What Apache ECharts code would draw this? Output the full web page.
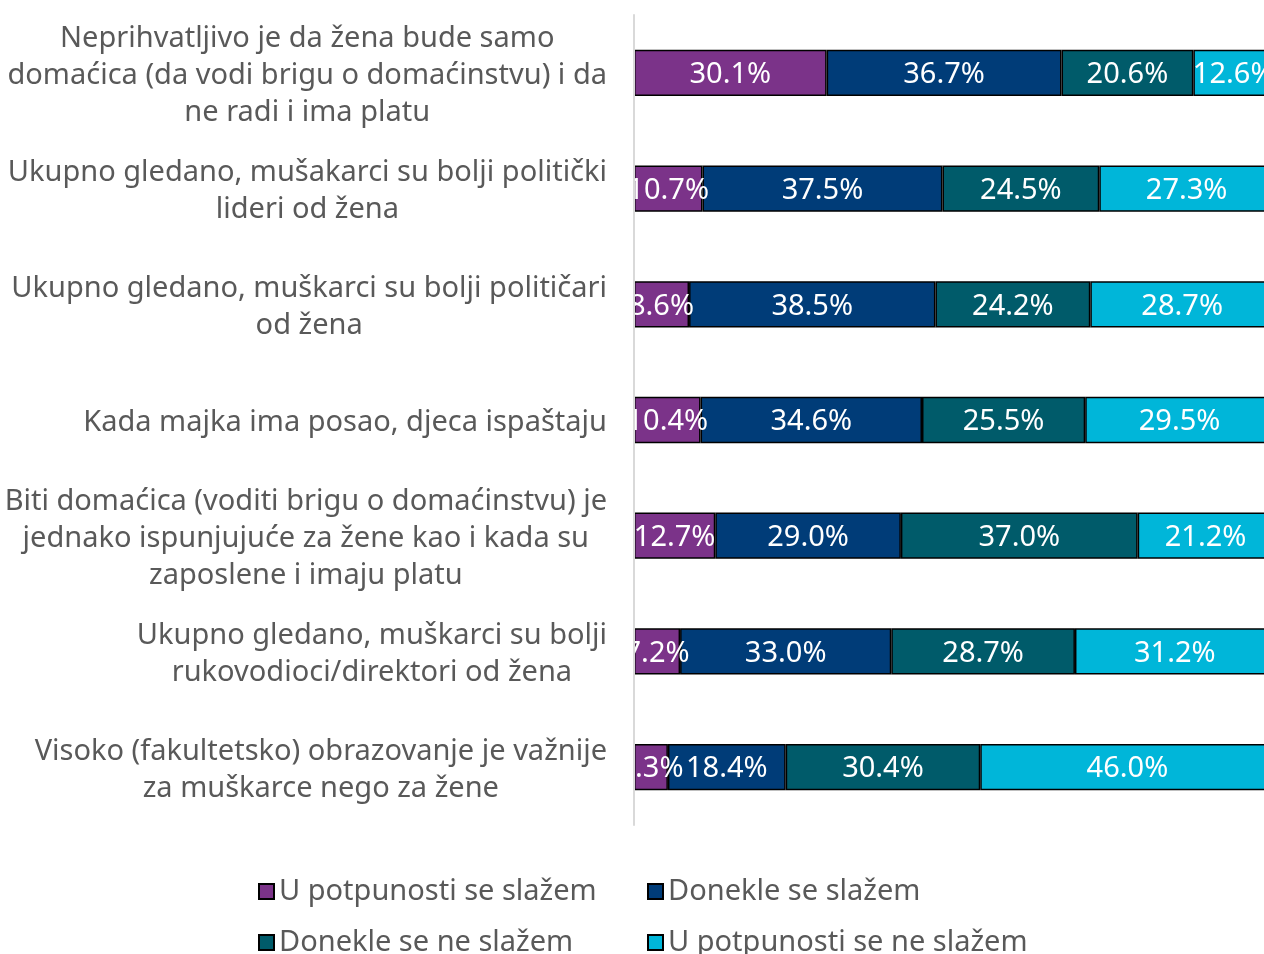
<!DOCTYPE html>
<html lang="en">
<head>
    <meta charset="UTF-8">
    <title>Stavovi</title>
    <script src="https://cdn.jsdelivr.net/npm/echarts@6/dist/echarts.min.js"></script>
    <style type="text/css">
        html, body { margin: 0; padding: 0; background: #fff; }
        #chart { width: 1264px; height: 954px; }
    </style>
</head>
<body>
<div id="chart"></div>
<script>
    var categories = [
        'Neprihvatljivo je da žena bude samo\ndomaćica (da vodi brigu o domaćinstvu) i da\nne radi i ima platu',
        'Ukupno gledano, mušakarci su bolji politički\nlideri od žena',
        'Ukupno gledano, muškarci su bolji političari\nod žena',
        'Kada majka ima posao, djeca ispaštaju',
        'Biti domaćica (voditi brigu o domaćinstvu) je\njednako ispunjujuće za žene kao i kada su\nzaposlene i imaju platu',
        'Ukupno gledano, muškarci su bolji\nrukovodioci/direktori od žena',
        'Visoko (fakultetsko) obrazovanje je važnije\nza muškarce nego za žene'
    ];
    var seriesNames = ['U potpunosti se slažem', 'Donekle se slažem', 'Donekle se ne slažem', 'U potpunosti se ne slažem'];
    var fullyAgree = [30.1, 10.7, 8.6, 10.4, 12.7, 7.2, 5.3];
    var partlyAgree = [36.7, 37.5, 38.5, 34.6, 29.0, 33.0, 18.4];
    var partlyDisagree = [20.6, 24.5, 24.2, 25.5, 37.0, 28.7, 30.4];
    var fullyDisagree = [12.6, 27.3, 28.7, 29.5, 21.2, 31.2, 46.0];

    var colors = ['#7b3389', '#003c78', '#005b6a', '#00b6d9'];
    var font = '"Noto Sans", sans-serif';
    var textGrey = '#595959';

    var values = [fullyAgree, partlyAgree, partlyDisagree, fullyDisagree];
    var series = seriesNames.map(function (name, i) {
        return {
            name: name,
            type: 'bar',
            stack: 'total',
            barCategoryGap: '60%',
            data: values[i],
            itemStyle: { color: colors[i], borderColor: '#000', borderWidth: 1.5 },
            label: {
                show: true,
                position: 'inside',
                offset: [0, 2],
                color: '#fff',
                fontSize: 29,
                fontFamily: font,
                formatter: function (p) { return p.value.toFixed(1) + '%'; }
            }
        };
    });

    // legend: 2 x 2, one component per item
    var legendPos = [[253, 872], [642, 872], [253, 923], [642, 923]];
    var legends = seriesNames.map(function (name, i) {
        return {
            left: legendPos[i][0],
            top: legendPos[i][1],
            icon: 'rect',
            itemWidth: 15,
            itemHeight: 15,
            itemGap: 0,
            data: [name],
            textStyle: { fontSize: 29, color: textGrey, fontFamily: font }
        };
    });

    var chart = echarts.init(document.getElementById('chart'));
    chart.setOption({
        animation: false,
        grid: { left: 634, top: 15, width: 640, height: 810, outerBoundsMode: 'none' },
        xAxis: { type: 'value', min: 0, max: 100, show: false },
        yAxis: {
            type: 'category',
            data: categories,
            inverse: true,
            zlevel: 1,
            axisTick: { show: false },
            axisLine: { show: true, lineStyle: { color: '#d9d9d9', width: 2 } },
            axisLabel: {
                margin: 27,
                align: 'right',
                padding: [6, 0, 0, 0],
                formatter: function (v) {
                    return v.split('\n').map(function (l) { return '{c|' + l + '}'; }).join('\n');
                },
                rich: {
                    c: { align: 'center', fontSize: 29, lineHeight: 37, color: textGrey, fontFamily: font }
                }
            }
        },
        legend: legends,
        graphic: [{
            type: 'rect',
            z: 100,
            shape: { x: 0, y: 0, width: 633, height: 840 },
            style: { fill: '#fff' }
        }],
        series: series
    });
</script>
</body>
</html>
